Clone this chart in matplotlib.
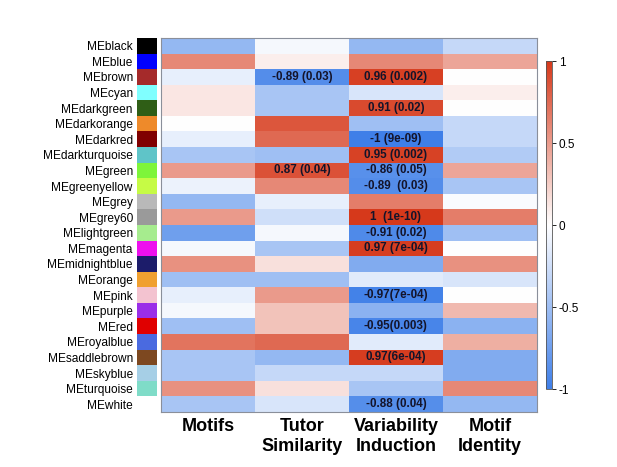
import matplotlib
matplotlib.use("Agg")
import matplotlib.pyplot as plt
import numpy as np
from matplotlib.colors import LinearSegmentedColormap, ListedColormap

modules = ["MEblack", "MEblue", "MEbrown", "MEcyan", "MEdarkgreen", "MEdarkorange",
           "MEdarkred", "MEdarkturquoise", "MEgreen", "MEgreenyellow", "MEgrey",
           "MEgrey60", "MElightgreen", "MEmagenta", "MEmidnightblue", "MEorange",
           "MEpink", "MEpurple", "MEred", "MEroyalblue", "MEsaddlebrown",
           "MEskyblue", "MEturquoise", "MEwhite"]
swatch_colors = ["#000000", "#0000ff", "#a52a2a", "#80ffff", "#2f5e16", "#ee8a2a",
                 "#800000", "#5fc4c8", "#7ef53a", "#c6fb45", "#b9b9b9",
                 "#9a9a9a", "#a6ec8e", "#ee10ee", "#1c1c6a", "#f0a030",
                 "#f3c3d0", "#9a2ee8", "#e00000", "#4a6ae0", "#7d4820",
                 "#a6cfe6", "#7fdcc8", "#ffffff"]
traits = ["Motifs", "Tutor\nSimilarity", "Variability\nInduction", "Motif\nIdentity"]

motifs = [-0.55, 0.6, -0.12, 0.12, 0.12, 0.0, -0.12, -0.45, 0.5, -0.1, -0.55, 0.5,
          -0.75, -0.05, 0.55, -0.5, -0.12, -0.05, -0.5, 0.7, -0.45, -0.45, 0.55, -0.45]
tutor_similarity = [-0.05, 0.08, -0.89, -0.45, -0.45, 0.85, 0.75, -0.5, 0.87, 0.6, -0.12, -0.25,
                    -0.05, -0.45, 0.15, -0.5, 0.5, 0.3, 0.3, 0.75, -0.55, -0.3, 0.15, -0.2]
variability_induction = [-0.55, 0.6, 0.96, -0.2, 0.91, -0.5, -1.0, 0.95, -0.86, -0.89, 0.65, 1.0,
                         -0.91, 0.97, -0.65, -0.15, -0.97, -0.6, -0.95, -0.15, 0.97, -0.3, -0.45, -0.88]
motif_identity = [-0.3, 0.45, 0.0, 0.08, 0.0, -0.3, -0.3, -0.4, 0.45, -0.45, -0.03, 0.65,
                  -0.5, 0.0, 0.55, -0.2, 0.0, 0.35, -0.6, 0.4, -0.65, -0.65, 0.6, -0.55]

annotations = {
    (2, 1): "-0.89 (0.03)", (2, 2): "0.96 (0.002)", (4, 2): "0.91 (0.02)",
    (6, 2): "-1 (9e-09)", (7, 2): "0.95 (0.002)", (8, 1): "0.87 (0.04)",
    (8, 2): "-0.86 (0.05)", (9, 2): "-0.89  (0.03)", (11, 2): "1  (1e-10)",
    (12, 2): "-0.91 (0.02)", (13, 2): "0.97 (7e-04)", (16, 2): "-0.97(7e-04)",
    (18, 2): "-0.95(0.003)", (20, 2): "0.97(6e-04)", (23, 2): "-0.88 (0.04)",
}

data = np.column_stack([motifs, tutor_similarity, variability_induction, motif_identity])
cmap = LinearSegmentedColormap.from_list("bwr2", ["#3f7fe8", "#ffffff", "#d6391b"])

plt.rcParams['font.family'] = ['Liberation Sans', 'DejaVu Sans']
fig = plt.figure(figsize=(6.17, 4.67), dpi=100)

ax = fig.add_axes([0.261, 0.1178, 0.609, 0.8008])
im = ax.imshow(data, cmap=cmap, vmin=-1, vmax=1, aspect="auto", interpolation="nearest")
for (r, c), s in annotations.items():
    ax.text(c, r, s, ha="center", va="center", fontsize=8.4, fontweight="bold", color="#14142a")
ax.set_yticks([])
ax.set_xticks(range(len(traits)))
ax.set_xticklabels(traits, fontsize=13, fontweight="bold", linespacing=1.3)
ax.tick_params(axis="x", length=0, pad=4)
for sp in ax.spines.values():
    sp.set_color("#8a8f9a")
    sp.set_linewidth(0.8)

axs = fig.add_axes([0.222, 0.1178, 0.031, 0.8008])
axs.imshow(np.arange(len(modules)).reshape(-1, 1), cmap=ListedColormap(swatch_colors),
           aspect="auto", interpolation="nearest")
axs.set_xticks([])
axs.set_yticks(range(len(modules)))
axs.set_yticklabels(modules, fontsize=8.6)
axs.tick_params(axis="y", length=0, pad=3)
for sp in axs.spines.values():
    sp.set_visible(False)

cax = fig.add_axes([0.885, 0.167, 0.0097, 0.702])
cb = fig.colorbar(im, cax=cax, ticks=[1, 0.5, 0, -0.5, -1])
cb.ax.set_yticklabels(["1", "0.5", "0", "-0.5", "-1"])
cb.ax.tick_params(labelsize=8.5, length=3, width=0.6, pad=2)
cb.outline.set_edgecolor("#555555")
cb.outline.set_linewidth(0.6)

fig.savefig("out.png", dpi=100)
